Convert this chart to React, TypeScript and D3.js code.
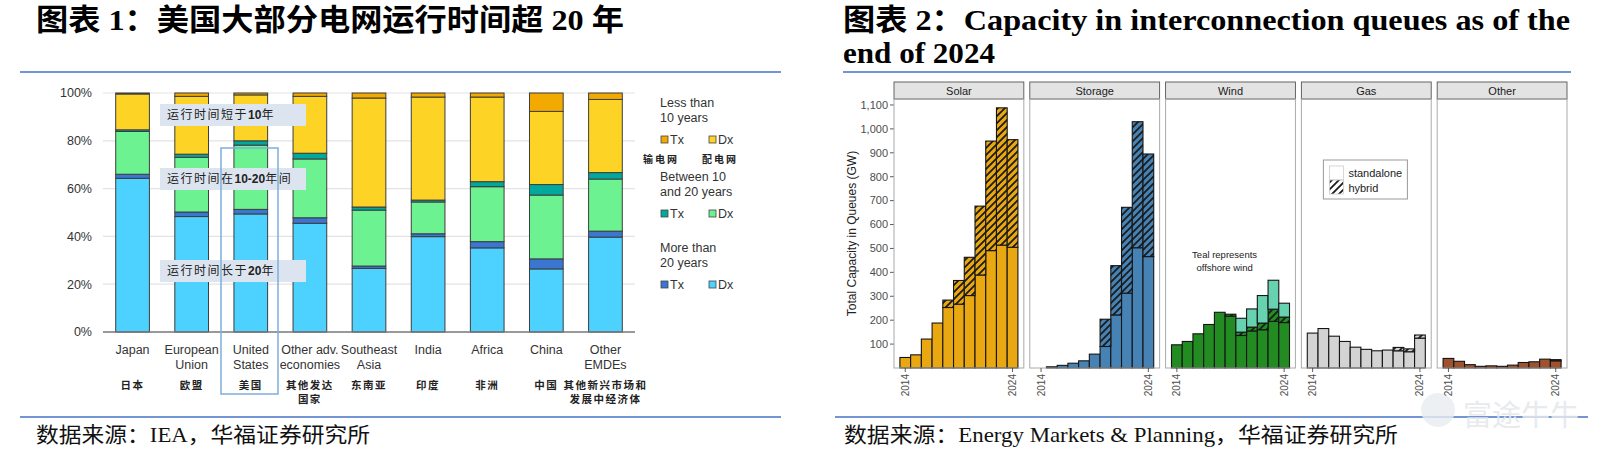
import { useEffect, useRef } from "react";
import * as d3 from "d3";

// ---- left chart: age of grids by region (% of km) ----
const regionsEn = [["Japan"], ["European", "Union"], ["United", "States"], ["Other adv.", "economies"], ["Southeast", "Asia"], ["India"], ["Africa"], ["China"], ["Other", "EMDEs"]];
const regionsCn = [["日本"], ["欧盟"], ["美国"], ["其他发达", "国家"], ["东南亚"], ["印度"], ["非洲"], ["中国"], ["其他新兴市场和", "发展中经济体"]];

const dxOver20 = [64.3, 48.3, 49.4, 45.5, 26.6, 39.9, 35.2, 26.4, 39.7];
const txOver20 = [1.7, 1.9, 1.9, 2.3, 1.0, 1.2, 2.6, 4.2, 2.5];
const dx10to20 = [17.9, 22.9, 26.9, 24.6, 23.4, 13.3, 23.0, 26.7, 21.8];
const tx10to20 = [0.7, 1.3, 1.8, 2.4, 1.3, 0.8, 2.1, 4.4, 2.7];
const dxUnder10 = [15.0, 24.2, 19.2, 23.8, 45.6, 43.1, 35.4, 30.6, 30.6];
const txUnder10 = [0.4, 1.4, 0.8, 1.4, 2.1, 1.7, 1.7, 7.7, 2.7];
const pctTicks = [0, 20, 40, 60, 80, 100];

// ---- right chart: interconnection queues (GW) ----
const years = [2014, 2015, 2016, 2017, 2018, 2019, 2020, 2021, 2022, 2023, 2024];
const solarStandalone = [44, 55, 121, 188, 253, 267, 303, 389, 491, 514, 505];
const solarHybrid = [0, 0, 0, 0, 31, 99, 160, 288, 458, 574, 450];
const storageStandalone = [0, 5, 11, 20, 30, 58, 90, 222, 313, 503, 466];
const storageHybrid = [0, 0, 0, 0, 0, 0, 114, 206, 359, 527, 429];
const windOnshore = [97, 111, 143, 182, 233, 217, 136, 155, 160, 195, 190];
const windHybrid = [0, 0, 0, 0, 0, 8, 14, 16, 28, 51, 23];
const windOffshore = [0, 0, 0, 0, 0, 0, 58, 76, 115, 121, 58];
const gasStandalone = [146, 165, 133, 111, 87, 78, 72, 75, 72, 68, 125];
const gasHybrid = [0, 0, 0, 0, 0, 0, 0, 0, 14, 12, 13];
const otherStandalone = [40, 28, 14, 7, 9, 7, 12, 23, 26, 37, 30];
const otherHybrid = [0, 0, 0, 0, 0, 0, 0, 0, 0, 0, 5];
const gwTicks = [100, 200, 300, 400, 500, 600, 700, 800, 900, 1000, 1100];
const yearTicks = [2014, 2024];

const SANS = "'Liberation Sans', Arial, 'Noto Sans CJK SC', sans-serif";
const SERIF = "'Liberation Serif', 'Times New Roman', 'Noto Sans CJK SC', serif";

function drawFrame(svg) {
  const blue = "#4472C4";
  svg.append("text").attr("x", 36).attr("y", 30)
    .attr("font-family", SERIF).attr("font-weight", "bold").attr("font-size", 30)
    .attr("textLength", 588).attr("lengthAdjust", "spacingAndGlyphs")
    .text("图表 1：美国大部分电网运行时间超 20 年");
  svg.append("text").attr("x", 843).attr("y", 30)
    .attr("font-family", SERIF).attr("font-weight", "bold").attr("font-size", 30)
    .attr("textLength", 727).attr("lengthAdjust", "spacingAndGlyphs")
    .text("图表 2：Capacity in interconnection queues as of the");
  svg.append("text").attr("x", 843).attr("y", 63)
    .attr("font-family", SERIF).attr("font-weight", "bold").attr("font-size", 30)
    .attr("textLength", 152).attr("lengthAdjust", "spacingAndGlyphs")
    .text("end of 2024");

  [[20, 781, 72], [843, 1571, 72], [20, 781, 417], [835, 1588, 417]].forEach(([x1, x2, y]) => {
    svg.append("line").attr("x1", x1).attr("x2", x2).attr("y1", y).attr("y2", y)
      .attr("stroke", blue).attr("stroke-width", 1.6);
  });

  svg.append("text").attr("x", 36).attr("y", 442)
    .attr("font-family", SERIF).attr("font-size", 21).attr("fill", "#111")
    .attr("textLength", 334).attr("lengthAdjust", "spacingAndGlyphs")
    .text("数据来源：IEA，华福证券研究所");
  svg.append("text").attr("x", 844).attr("y", 442)
    .attr("font-family", SERIF).attr("font-size", 21).attr("fill", "#111")
    .attr("textLength", 554).attr("lengthAdjust", "spacingAndGlyphs")
    .text("数据来源：Energy Markets & Planning，华福证券研究所");

  // watermark
  svg.append("circle").attr("cx", 1438).attr("cy", 410).attr("r", 17)
    .attr("fill", "#E9ECF0").attr("opacity", 0.8);
  svg.append("text").attr("x", 1463).attr("y", 426)
    .attr("font-family", SANS).attr("font-size", 29).attr("fill", "#E4E7EC").attr("opacity", 0.85)
    .text("富途牛牛");
}

function drawLeft(svg) {
  const keys = ["dxOver20", "txOver20", "dx10to20", "tx10to20", "dxUnder10", "txUnder10"];
  const colors = {
    dxOver20: "#4DD2FF", txOver20: "#3B76D0",
    dx10to20: "#6CF291", tx10to20: "#00A99B",
    dxUnder10: "#FDD326", txUnder10: "#F2A900"
  };
  const rows = regionsEn.map((r, i) => ({
    i,
    dxOver20: dxOver20[i], txOver20: txOver20[i],
    dx10to20: dx10to20[i], tx10to20: tx10to20[i],
    dxUnder10: dxUnder10[i], txUnder10: txUnder10[i]
  }));

  const x = d3.scaleBand().domain(d3.range(regionsEn.length))
    .range([103, 635]).paddingInner(0.43).paddingOuter(0.215);
  const y = d3.scaleLinear().domain([0, 100]).range([332, 93]);

  const g = svg.append("g");

  pctTicks.forEach(t => {
    if (t > 0) {
      g.append("line").attr("x1", 103).attr("x2", 635).attr("y1", y(t)).attr("y2", y(t))
        .attr("stroke", "#E3E3E3").attr("stroke-width", 1.2);
    }
    g.append("text").attr("x", 92).attr("y", y(t)).attr("dy", "0.35em")
      .attr("text-anchor", "end").attr("font-family", SANS).attr("font-size", 12.5).attr("fill", "#333")
      .text(t + "%");
  });

  const stacked = d3.stack().keys(keys)(rows);
  stacked.forEach(layer => {
    g.selectAll(null).data(layer).join("rect")
      .attr("x", d => x(d.data.i))
      .attr("width", x.bandwidth())
      .attr("y", d => y(d[1]))
      .attr("height", d => y(d[0]) - y(d[1]))
      .attr("fill", colors[layer.key])
      .attr("stroke", "#3d3d3d").attr("stroke-width", 1);
  });

  g.append("line").attr("x1", 103).attr("x2", 635).attr("y1", y(0)).attr("y2", y(0))
    .attr("stroke", "#777").attr("stroke-width", 1.5);

  // x labels
  regionsEn.forEach((lines, i) => {
    const cx = x(i) + x.bandwidth() / 2;
    lines.forEach((l, k) => {
      g.append("text").attr("x", cx).attr("y", 354 + k * 15).attr("text-anchor", "middle")
        .attr("font-family", SANS).attr("font-size", 12.5).attr("fill", "#333").text(l);
    });
    regionsCn[i].forEach((l, k) => {
      g.append("text").attr("x", cx).attr("y", 389 + k * 14).attr("text-anchor", "middle")
        .attr("font-family", SERIF).attr("font-weight", "bold").attr("font-size", 10.5)
        .attr("fill", "#222").attr("letter-spacing", 1.5).text(l);
    });
  });

  // annotation boxes
  const notes = [
    { y: 104, parts: ["运行时间短于", "10", "年"] },
    { y: 168, parts: ["运行时间在", "10-20", "年间"] },
    { y: 260, parts: ["运行时间长于", "20", "年"] }
  ];
  notes.forEach(n => {
    g.append("rect").attr("x", 160).attr("y", n.y).attr("width", 146).attr("height", 22)
      .attr("fill", "#DCE5EF");
    const t = g.append("text").attr("x", 167).attr("y", n.y + 15)
      .attr("font-family", SERIF).attr("font-size", 12).attr("fill", "#222");
    t.append("tspan").attr("letter-spacing", 1.5).text(n.parts[0]);
    t.append("tspan").attr("font-family", SANS).attr("font-weight", "bold").text(n.parts[1]);
    t.append("tspan").attr("letter-spacing", 1.5).text(n.parts[2]);
  });

  // highlight United States
  g.append("rect").attr("x", 221).attr("y", 148).attr("width", 57).attr("height", 246)
    .attr("fill", "none").attr("stroke", "#7DAEDD").attr("stroke-width", 1.5);

  // legend
  const leg = [
    { head: ["Less than", "10 years"], y: 107, tx: "txUnder10", dx: "dxUnder10" },
    { head: ["Between 10", "and 20 years"], y: 181, tx: "tx10to20", dx: "dx10to20" },
    { head: ["More than", "20 years"], y: 252, tx: "txOver20", dx: "dxOver20" }
  ];
  leg.forEach(L => {
    L.head.forEach((h, k) => {
      g.append("text").attr("x", 660).attr("y", L.y + k * 15)
        .attr("font-family", SANS).attr("font-size", 12.5).attr("fill", "#333").text(h);
    });
    const ry = L.y + 33;
    [[661, L.tx, "Tx"], [709, L.dx, "Dx"]].forEach(([lx, key, lab]) => {
      g.append("rect").attr("x", lx).attr("y", ry - 4).attr("width", 7).attr("height", 7)
        .attr("fill", colors[key]).attr("stroke", "#444").attr("stroke-width", 0.8);
      g.append("text").attr("x", lx + 9).attr("y", ry).attr("dy", "0.35em")
        .attr("font-family", SANS).attr("font-size", 12.5).attr("fill", "#333").text(lab);
    });
  });
  [[661, "输电网"], [720, "配电网"]].forEach(([lx, t]) => {
    g.append("text").attr("x", lx).attr("y", 163).attr("text-anchor", "middle")
      .attr("font-family", SERIF).attr("font-weight", "bold").attr("font-size", 10)
      .attr("letter-spacing", 2).attr("fill", "#222").text(t);
  });
}

function drawRight(svg) {
  const defs = svg.append("defs");
  const pat = defs.append("pattern").attr("id", "hatch").attr("patternUnits", "userSpaceOnUse")
    .attr("width", 7).attr("height", 7);
  pat.append("path").attr("d", "M-1,1 l2,-2 M0,7 l7,-7 M6,8 l2,-2")
    .attr("stroke", "#1b1b1b").attr("stroke-width", 1.8);

  const panels = [
    { name: "Solar", layers: [{ v: solarStandalone, c: "#E9A812" }, { v: solarHybrid, c: "#E9A812", h: true }] },
    { name: "Storage", layers: [{ v: storageStandalone, c: "#4682B4" }, { v: storageHybrid, c: "#4682B4", h: true }] },
    { name: "Wind", layers: [{ v: windOnshore, c: "#228B22" }, { v: windHybrid, c: "#228B22", h: true }, { v: windOffshore, c: "#66D2B0" }] },
    { name: "Gas", layers: [{ v: gasStandalone, c: "#D3D3D3" }, { v: gasHybrid, c: "#D3D3D3", h: true }] },
    { name: "Other", layers: [{ v: otherStandalone, c: "#A0522D" }, { v: otherHybrid, c: "#A0522D", h: true }] }
  ];

  const top = 99, bottom = 368, pw = 130;
  const px = d3.scaleBand().domain(panels.map(p => p.name)).range([894, 1567]).paddingInner(0.044);
  const y = d3.scaleLinear().domain([0, 1125]).range([bottom, top]);

  // y axis
  gwTicks.forEach(t => {
    svg.append("line").attr("x1", 890).attr("x2", 894).attr("y1", y(t)).attr("y2", y(t))
      .attr("stroke", "#333").attr("stroke-width", 0.8);
    svg.append("text").attr("x", 888).attr("y", y(t)).attr("dy", "0.35em").attr("text-anchor", "end")
      .attr("font-family", SANS).attr("font-size", 11).attr("fill", "#4d4d4d")
      .text(d3.format(",")(t));
  });
  svg.append("text").attr("transform", `translate(856,${(top + bottom) / 2}) rotate(-90)`)
    .attr("text-anchor", "middle").attr("font-family", SANS).attr("font-size", 12).attr("fill", "#222")
    .text("Total Capacity in Queues (GW)");

  panels.forEach(p => {
    const x0 = px(p.name);
    const w = px.bandwidth();
    const x = d3.scaleLinear().domain([2012.95, 2025.05]).range([x0, x0 + w]);
    const bw = x(1) - x(0);
    const g = svg.append("g");

    // strip
    g.append("rect").attr("x", x0).attr("y", 82).attr("width", w).attr("height", top - 82)
      .attr("fill", "#E3E3E3").attr("stroke", "#555").attr("stroke-width", 0.9);
    g.append("text").attr("x", x0 + w / 2).attr("y", 91).attr("dy", "0.35em").attr("text-anchor", "middle")
      .attr("font-family", SANS).attr("font-size", 11).attr("fill", "#1a1a1a").text(p.name);

    // bars
    const base = years.map(() => 0);
    p.layers.forEach(L => {
      years.forEach((yr, i) => {
        const v = L.v[i];
        if (v <= 0) return;
        const y0 = base[i], y1 = base[i] + v;
        base[i] = y1;
        const rx = x(yr) - bw / 2, ry = y(y1), rh = y(y0) - y(y1);
        g.append("rect").attr("x", rx).attr("y", ry).attr("width", bw).attr("height", rh)
          .attr("fill", L.c);
        if (L.h) {
          g.append("rect").attr("x", rx).attr("y", ry).attr("width", bw).attr("height", rh)
            .attr("fill", "url(#hatch)");
        }
        g.append("rect").attr("x", rx).attr("y", ry).attr("width", bw).attr("height", rh)
          .attr("fill", "none").attr("stroke", "#151515").attr("stroke-width", 1.1);
      });
    });

    // panel border
    g.append("rect").attr("x", x0).attr("y", top).attr("width", w).attr("height", bottom - top)
      .attr("fill", "none").attr("stroke", "#AAAAAA").attr("stroke-width", 1);

    // x ticks
    yearTicks.forEach(t => {
      g.append("line").attr("x1", x(t)).attr("x2", x(t)).attr("y1", bottom).attr("y2", bottom + 4)
        .attr("stroke", "#333").attr("stroke-width", 0.8);
      g.append("text").attr("transform", `translate(${x(t)},${bottom + 6}) rotate(-90)`)
        .attr("text-anchor", "end").attr("dy", "0.35em")
        .attr("font-family", SANS).attr("font-size", 10).attr("fill", "#4d4d4d").text(t);
    });

    if (p.name === "Wind") {
      ["Teal represents", "offshore wind"].forEach((s, k) => {
        g.append("text").attr("x", x0 + 59).attr("y", 258 + k * 13).attr("text-anchor", "middle")
          .attr("font-family", SANS).attr("font-size", 9.5).attr("fill", "#222").text(s);
      });
    }
    if (p.name === "Gas") {
      const lx = x0 + 22;
      g.append("rect").attr("x", lx).attr("y", 160).attr("width", 84).attr("height", 39)
        .attr("fill", "#fff").attr("stroke", "#999").attr("stroke-width", 1);
      g.append("rect").attr("x", lx + 6).attr("y", 166).attr("width", 14).attr("height", 14)
        .attr("fill", "#fff").attr("stroke", "#ccc").attr("stroke-width", 0.8);
      g.append("rect").attr("x", lx + 6).attr("y", 180).attr("width", 14).attr("height", 14)
        .attr("fill", "url(#hatch)");
      g.append("rect").attr("x", lx + 6).attr("y", 180).attr("width", 14).attr("height", 14)
        .attr("fill", "none").attr("stroke", "#ccc").attr("stroke-width", 0.8);
      [["standalone", 173], ["hybrid", 188]].forEach(([s, yy]) => {
        g.append("text").attr("x", lx + 25).attr("y", yy).attr("dy", "0.35em")
          .attr("font-family", SANS).attr("font-size", 11).attr("fill", "#222").text(s);
      });
    }
  });
}

export default function App() {
  const ref = useRef(null);

  useEffect(() => {
    const svg = d3.select(ref.current);
    svg.selectAll("*").remove();
    drawFrame(svg);
    drawLeft(svg);
    drawRight(svg);
  }, []);

  return (
    <svg ref={ref} width={1600} height={454}
      style={{ position: "absolute", left: 0, top: 0, background: "#fff" }} />
  );
}
